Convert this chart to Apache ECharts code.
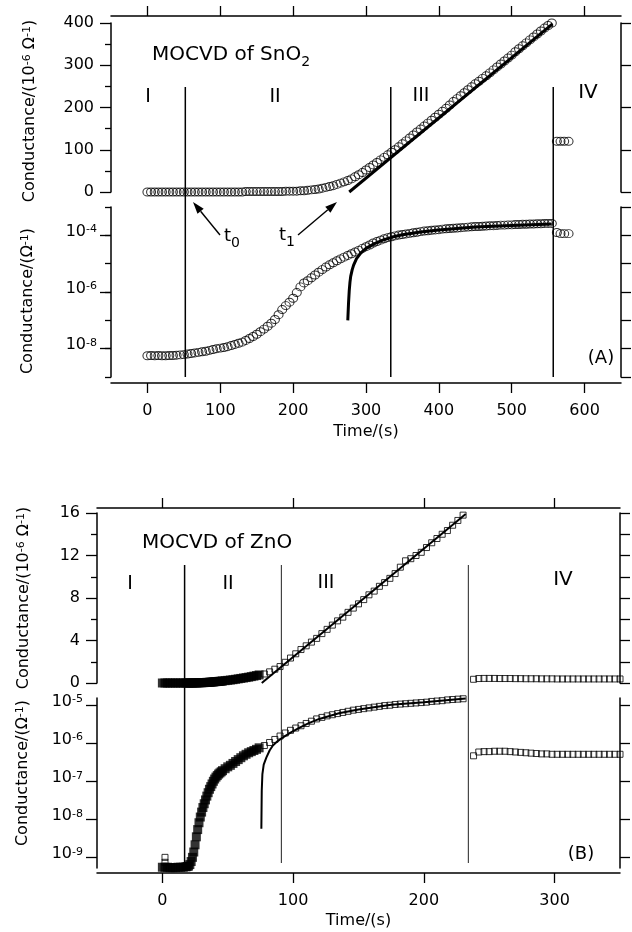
<!DOCTYPE html>
<html><head><meta charset="utf-8">
<script src="https://cdn.jsdelivr.net/npm/echarts@6/dist/echarts.min.js"></script>
<style>html,body{margin:0;padding:0;background:#fff}#c{width:632px;height:932px}</style>
</head><body><div id="c"></div>
<script>
// ---------- Panel A : MOCVD of SnO2 ----------
const A_time = [0,5,10,15,20,25,30,35,40,45,50,55,60,65,70,75,80,85,90,95,100,105,110,115,120,125,130,135,140,145,150,155,160,165,170,175,180,185,190,195,200,205,210,215,220,225,230,235,240,245,250,255,260,265,270,275,280,285,290,295,300,305,310,315,320,325,330,335,340,345,350,355,360,365,370,375,380,385,390,395,400,405,410,415,420,425,430,435,440,445,450,455,460,465,470,475,480,485,490,495,500,505,510,515,520,525,530,535,540,545,550,555];
// conductance, 10^-6 ohm^-1
const A_linG = [0,0,0,0,0,0,0,0,0,0,0,0,0,0,0,0,0,0,0,0,0,0,0,0,0,0,0,1,1,1,1,1,1,1,1,1,1,1,2,2,2,2,3,3,4,5,6,7,9,11,13,15,18,21,24,27,31,36,41,46,52,58,64,70,76,82,88,94,100,107,114,121,128,135,142,149,156,163,170,177,184,191,198,206,214,221,228,235,242,249,256,262,269,275,282,289,296,303,310,317,324,332,339,346,353,360,367,374,381,388,394,400];
// log10 of conductance (ohm^-1)
const A_logG = [-8.25,-8.24,-8.25,-8.24,-8.25,-8.25,-8.24,-8.24,-8.23,-8.22,-8.21,-8.19,-8.17,-8.15,-8.13,-8.11,-8.09,-8.06,-8.03,-8.00,-7.98,-7.96,-7.93,-7.89,-7.85,-7.81,-7.77,-7.71,-7.64,-7.57,-7.49,-7.40,-7.31,-7.21,-7.10,-6.97,-6.80,-6.62,-6.48,-6.36,-6.22,-6.02,-5.82,-5.68,-5.60,-5.50,-5.40,-5.30,-5.21,-5.12,-5.04,-4.97,-4.90,-4.83,-4.77,-4.71,-4.65,-4.59,-4.53,-4.46,-4.40,-4.34,-4.27,-4.22,-4.17,-4.12,-4.08,-4.05,-4.02,-3.99,-3.97,-3.95,-3.93,-3.91,-3.89,-3.87,-3.85,-3.84,-3.82,-3.81,-3.80,-3.78,-3.77,-3.76,-3.75,-3.74,-3.73,-3.72,-3.71,-3.70,-3.69,-3.69,-3.68,-3.67,-3.66,-3.66,-3.65,-3.64,-3.64,-3.63,-3.63,-3.62,-3.62,-3.61,-3.61,-3.60,-3.60,-3.59,-3.59,-3.58,-3.58,-3.58];
const A4_time = [562,567,572,578];
const A4_linG = [120,120,120,120];
const A4_logG = [-3.90,-3.94,-3.94,-3.94];
const A_fitLinT = [277,556];
const A_fitLinG = [0,398];
const A_fitLogT = [275,276,277,278,279,281,283,287,293,300,311,323,335,350,375,400,450,500,555];
const A_fitLogG = [-7.0,-6.4,-5.95,-5.65,-5.45,-5.22,-5.05,-4.82,-4.62,-4.46,-4.30,-4.17,-4.07,-3.98,-3.88,-3.81,-3.71,-3.65,-3.60];
const A_bounds = [52,334,557];
const A_xTicks = [0,100,200,300,400,500,600];
const A_logLabels = [-8,-6,-4];
const A_logMinor = [-9,-8,-7,-6,-5,-4,-3];

// ---------- Panel B : MOCVD of ZnO ----------
const B_fillT = [0,2,4,6,8,10,12,14,16,18,19,20,21,22,23,24,25,26,27,28,29,30,31,32,33,34,35,36,37,38,39,40,41,42,43,44,45,46,48,50,52,54,56,58,60,62,64,66,68,70,72,74];
const B_fillLin = [0,0,0,0,0,0,0,0,0,0,0,0,0,0,0,0.01,0.01,0.01,0.02,0.02,0.03,0.03,0.03,0.04,0.05,0.06,0.06,0.07,0.08,0.09,0.1,0.12,0.13,0.14,0.15,0.16,0.17,0.19,0.22,0.25,0.28,0.31,0.35,0.39,0.43,0.47,0.51,0.55,0.6,0.65,0.7,0.76];
const B_fillLog = [-9.25,-9.25,-9.25,-9.26,-9.26,-9.26,-9.25,-9.25,-9.25,-9.24,-9.23,-9.22,-9.18,-9.1,-8.99,-8.85,-8.66,-8.45,-8.26,-8.08,-7.93,-7.8,-7.68,-7.58,-7.48,-7.38,-7.29,-7.2,-7.13,-7.06,-6.99,-6.93,-6.88,-6.84,-6.8,-6.77,-6.74,-6.71,-6.66,-6.61,-6.57,-6.52,-6.47,-6.42,-6.37,-6.32,-6.28,-6.24,-6.21,-6.18,-6.15,-6.11];
const B_outT = [2,2];
const B_outLog = [-8.99,-9.12];
const B_time = [78,82,86,90,94,98,102,106,110,114,118,122,126,130,134,138,142,146,150,154,158,162,166,170,174,178,182,186,190,194,198,202,206,210,214,218,222,226,230];
const B_linG = [0.85,1.05,1.3,1.55,1.95,2.35,2.75,3.15,3.5,3.85,4.2,4.65,5.05,5.45,5.85,6.2,6.65,7.05,7.45,7.85,8.3,8.65,9.1,9.45,9.85,10.3,10.9,11.5,11.7,12.0,12.3,12.75,13.2,13.6,14.0,14.35,14.85,15.3,15.8];
const B_logG = [-6.05,-5.97,-5.89,-5.8,-5.72,-5.65,-5.59,-5.53,-5.47,-5.41,-5.35,-5.31,-5.27,-5.24,-5.21,-5.18,-5.15,-5.12,-5.1,-5.08,-5.06,-5.04,-5.02,-5.0,-4.99,-4.97,-4.96,-4.95,-4.94,-4.93,-4.92,-4.91,-4.89,-4.88,-4.87,-4.85,-4.84,-4.83,-4.82];
const B4_time = [238,242,246,250,254,258,262,266,270,274,278,282,286,290,294,298,302,306,310,314,318,322,326,330,334,338,342,346,350];
const B4_linG = [0.35,0.42,0.43,0.43,0.43,0.42,0.42,0.42,0.41,0.41,0.4,0.4,0.4,0.39,0.39,0.39,0.38,0.38,0.38,0.38,0.38,0.38,0.38,0.38,0.38,0.38,0.38,0.38,0.38];
const B4_logG = [-6.32,-6.22,-6.21,-6.21,-6.2,-6.2,-6.2,-6.21,-6.22,-6.23,-6.24,-6.25,-6.26,-6.27,-6.27,-6.28,-6.28,-6.28,-6.28,-6.28,-6.28,-6.28,-6.28,-6.28,-6.28,-6.28,-6.28,-6.28,-6.28];
const B_fitLinT = [76,232];
const B_fitLinG = [0,15.9];
const B_fitLogT = [75.7,76,76.5,77.5,79.5,82,84.5,88,92,98,105,112,120,135,150,175,200,232];
const B_fitLogG = [-8.24,-7.24,-6.8,-6.55,-6.37,-6.18,-6.05,-5.94,-5.84,-5.71,-5.58,-5.46,-5.35,-5.2,-5.1,-4.98,-4.91,-4.81];
const B_bounds = [17,91,234];
const B_xTicks = [0,100,200,300];
const B_logTicks = [-9,-8,-7,-6,-5];

// ---------- helpers ----------
const F = "'DejaVu Sans', 'Liberation Sans', sans-serif";
const K = '#000';
const zip = (a, b) => a.map((t, i) => [t, b[i]]);
const AXL = {show: true, onZero: false, lineStyle: {color: K, width: 1.5}};
const TK = (len, extra) => Object.assign({show: true, inside: false, length: len, lineStyle: {color: K, width: 1.3}}, extra || {});
const SUP = {
  b: {fontFamily: F, fontSize: 16, lineHeight: 16, verticalAlign: 'bottom', color: K},
  s: {fontFamily: F, fontSize: 11, lineHeight: 11, padding: [0, 0, 12, 0], verticalAlign: 'top', color: K}
};
const pw = e => '{b|10}{s|' + e + '}';
const linLabel = {fontFamily: F, fontSize: 16, color: K, margin: 17};
const logLabel = vals => ({customValues: vals, formatter: v => pw(v), rich: SUP, margin: 14, padding: [0, 0, 7, 0]});
const nameLin = '{b|Conductance/(10}{s|-6}{b| Ω}{s|-1}{b|)}';
const nameLog = '{b|Conductance/(Ω}{s|-1}{b|)}';

function xAx(grid, pos, off, min, max, ticks, labels, name, gap) {
  const o = {gridIndex: grid, type: 'value', position: pos, offset: off, min: min, max: max,
    axisLine: AXL, axisTick: TK(10, {customValues: ticks}), splitLine: {show: false},
    axisLabel: labels ? {customValues: ticks, fontFamily: F, fontSize: 16, color: K, margin: 20} : {show: false}};
  if (name) { o.name = name; o.nameLocation = 'middle'; o.nameGap = gap; o.nameTextStyle = {fontFamily: F, fontSize: 16, color: K}; }
  return o;
}
function hidX(grid, min, max) { return {gridIndex: grid, type: 'value', show: false, min: min, max: max}; }
function hidY(grid) { return {gridIndex: grid, type: 'value', show: false, min: 0, max: 1}; }
function yName(o, name, gap, pad) {
  o.name = name; o.nameLocation = 'middle'; o.nameGap = gap;
  o.nameTextStyle = {rich: SUP, padding: pad};
  return o;
}

const xAxis = [
  xAx(0, 'top', 7, -50, 650, A_xTicks, false),
  xAx(1, 'bottom', 6, -50, 650, A_xTicks, true, 'Time/(s)', 41),
  hidX(2, -50, 650),
  xAx(3, 'top', 5, -50, 350, B_xTicks, false),
  xAx(4, 'bottom', 5, -50, 350, B_xTicks, true, 'Time/(s)', 40),
  hidX(5, -50, 350)
];

const yAxis = [
  // 0 A lin left
  yName({gridIndex: 0, type: 'value', position: 'left', min: 0, max: 400, interval: 100, axisLine: AXL,
    axisTick: TK(11), minorTick: {show: true, splitNumber: 2, length: 6, lineStyle: {color: K, width: 1.3}},
    splitLine: {show: false}, minorSplitLine: {show: false}, axisLabel: linLabel}, nameLin, 73, [0, 7, 0, 0]),
  // 1 A lin right
  {gridIndex: 0, type: 'value', position: 'right', min: 0, max: 400, interval: 100, axisLine: AXL,
    axisTick: TK(10), splitLine: {show: false}, axisLabel: {show: false}},
  // 2 A log left (labels + long ticks)
  yName({gridIndex: 1, type: 'value', position: 'left', min: -9, max: -3, interval: 1, axisLine: AXL,
    axisTick: TK(11, {customValues: A_logLabels}), splitLine: {show: false}, axisLabel: logLabel(A_logLabels)}, nameLog, 75, [0, 18, 0, 0]),
  // 3 A log left (short ticks)
  {gridIndex: 1, type: 'value', position: 'left', min: -9, max: -3, interval: 1, axisLine: {show: false, onZero: false},
    axisTick: TK(6, {customValues: A_logMinor}), splitLine: {show: false}, axisLabel: {show: false}},
  // 4 A log right
  {gridIndex: 1, type: 'value', position: 'right', min: -9, max: -3, interval: 1, axisLine: AXL,
    axisTick: TK(10, {customValues: A_logMinor}), splitLine: {show: false}, axisLabel: {show: false}},
  // 5 A overlay
  hidY(2),
  // 6 B lin left
  yName({gridIndex: 3, type: 'value', position: 'left', min: 0, max: 16, interval: 4, axisLine: AXL,
    axisTick: TK(11), minorTick: {show: true, splitNumber: 2, length: 6, lineStyle: {color: K, width: 1.3}},
    splitLine: {show: false}, minorSplitLine: {show: false}, axisLabel: linLabel}, nameLin, 65, [0, 0, 0, 0]),
  // 7 B lin right
  {gridIndex: 3, type: 'value', position: 'right', min: 0, max: 16, interval: 2, axisLine: AXL,
    axisTick: TK(10), splitLine: {show: false}, axisLabel: {show: false}},
  // 8 B log left
  yName({gridIndex: 4, type: 'value', position: 'left', min: -9.27, max: -4.8, axisLine: AXL,
    axisTick: TK(11, {customValues: B_logTicks}), splitLine: {show: false}, axisLabel: logLabel(B_logTicks)}, nameLog, 66, [0, 0, 0, 20]),
  // 9 B log right
  {gridIndex: 4, type: 'value', position: 'right', min: -9.27, max: -4.8, axisLine: AXL,
    axisTick: TK(10, {customValues: B_logTicks}), splitLine: {show: false}, axisLabel: {show: false}},
  // 10 B overlay
  hidY(5)
];

const grid = [
  {left: 111, right: 11, top: 23, height: 169},
  {left: 111, right: 11, top: 207, height: 170},
  {left: 111, right: 11, top: 87, height: 290},
  {left: 97, right: 12, top: 513, height: 170},
  {left: 97, right: 12, top: 698, height: 170},
  {left: 97, right: 12, top: 565, height: 298}
].map(g => Object.assign({outerBoundsMode: 'none', containLabel: false}, g));

const openCircle = {symbol: 'circle', symbolSize: [9, 8], itemStyle: {color: 'rgba(255,255,255,0)', borderColor: K, borderWidth: 1}};
const openSquare = {symbol: 'rect', symbolSize: 6, itemStyle: {color: 'rgba(255,255,255,0)', borderColor: K, borderWidth: 1}};
const filledSquare = {symbol: 'rect', symbolSize: 9, itemStyle: {color: K}};
function sc(x, y, data, style) { return Object.assign({type: 'scatter', xAxisIndex: x, yAxisIndex: y, data: data, clip: false, silent: true}, style); }
function ln(x, y, data, w, color) { return {type: 'line', xAxisIndex: x, yAxisIndex: y, data: data, symbol: 'none', clip: false, silent: true, z: 5, lineStyle: {color: color || K, width: w}}; }

const series = [];
A_bounds.forEach(b => series.push(ln(2, 5, [[b, 0], [b, 1]], 1.5)));
B_bounds.forEach((b, i) => series.push(ln(5, 10, [[b, 0], [b, 1]], i === 0 ? 1.5 : 1, i === 0 ? K : '#222')));
series.push(sc(0, 0, zip(A_time, A_linG), openCircle));
series.push(sc(0, 0, zip(A4_time, A4_linG), openCircle));
series.push(ln(0, 0, zip(A_fitLinT, A_fitLinG), 3));
series.push(sc(1, 2, zip(A_time, A_logG), openCircle));
series.push(sc(1, 2, zip(A4_time, A4_logG), openCircle));
series.push(ln(1, 2, zip(A_fitLogT, A_fitLogG), 3));
series.push(sc(3, 6, zip(B_fillT, B_fillLin), filledSquare));
series.push(sc(3, 6, zip(B_time, B_linG), openSquare));
series.push(sc(3, 6, zip(B4_time, B4_linG), openSquare));
series.push(ln(3, 6, zip(B_fitLinT, B_fitLinG), 2));
series.push(sc(4, 8, zip(B_fillT, B_fillLog), filledSquare));
series.push(sc(4, 8, zip(B_outT, B_outLog), openSquare));
series.push(sc(4, 8, zip(B_time, B_logG), openSquare));
series.push(sc(4, 8, zip(B4_time, B4_logG), openSquare));
series.push(ln(4, 8, zip(B_fitLogT, B_fitLogG), 2));

// ---------- annotations ----------
function txt(x, y, text, size, align, rich) {
  const st = {text: text, fill: K, font: size + 'px ' + F, align: align || 'center', verticalAlign: 'middle',
    textAlign: align || 'center', textVerticalAlign: 'middle'};
  if (rich) st.rich = rich;
  return {type: 'text', x: x, y: y, z: 10, style: st};
}
const SUB20 = {
  m: {fontFamily: F, fontSize: 20, lineHeight: 22, verticalAlign: 'top', fill: K, color: K},
  s: {fontFamily: F, fontSize: 14, lineHeight: 14, padding: [10, 0, 0, 0], verticalAlign: 'top', fill: K, color: K}
};
const SUB18 = {
  m: {fontFamily: F, fontSize: 18, lineHeight: 20, verticalAlign: 'top', fill: K, color: K},
  s: {fontFamily: F, fontSize: 14, lineHeight: 14, padding: [9, 0, 0, 0], verticalAlign: 'top', fill: K, color: K}
};
function arrow(x1, y1, x2, y2) {
  const dx = x2 - x1, dy = y2 - y1, L = Math.hypot(dx, dy), ux = dx / L, uy = dy / L;
  const bx = x2 - 12 * ux, by = y2 - 12 * uy, px = -uy * 4, py = ux * 4;
  return [
    {type: 'line', z: 10, shape: {x1: x1, y1: y1, x2: bx, y2: by}, style: {stroke: K, lineWidth: 1.4}},
    {type: 'polygon', z: 10, shape: {points: [[x2, y2], [bx + px, by + py], [bx - px, by - py]]}, style: {fill: K}}
  ];
}
const graphic = [
  txt(152, 56, '{m|MOCVD of SnO}{s|2}', 20, 'left', SUB20),
  txt(148, 97, 'I', 19), txt(275, 97, 'II', 19), txt(421, 96, 'III', 19), txt(588, 93, 'IV', 20),
  txt(224, 237, '{m|t}{s|0}', 18, 'left', SUB18),
  txt(279, 236, '{m|t}{s|1}', 18, 'left', SUB18),
  txt(601, 358, '(A)', 18),
  txt(142, 543, 'MOCVD of ZnO', 20, 'left'),
  txt(130, 584, 'I', 19), txt(228, 584, 'II', 19), txt(326, 583, 'III', 19), txt(563, 580, 'IV', 20),
  txt(581, 854, '(B)', 18)
].concat(arrow(220, 235, 193, 202), arrow(298, 235, 337, 202));

const chart = echarts.init(document.getElementById('c'), null, {renderer: 'canvas'});
chart.setOption({
  animation: false,
  backgroundColor: '#fff',
  textStyle: {fontFamily: F, color: K},
  grid: grid, xAxis: xAxis, yAxis: yAxis, series: series, graphic: graphic
});
</script></body></html>
